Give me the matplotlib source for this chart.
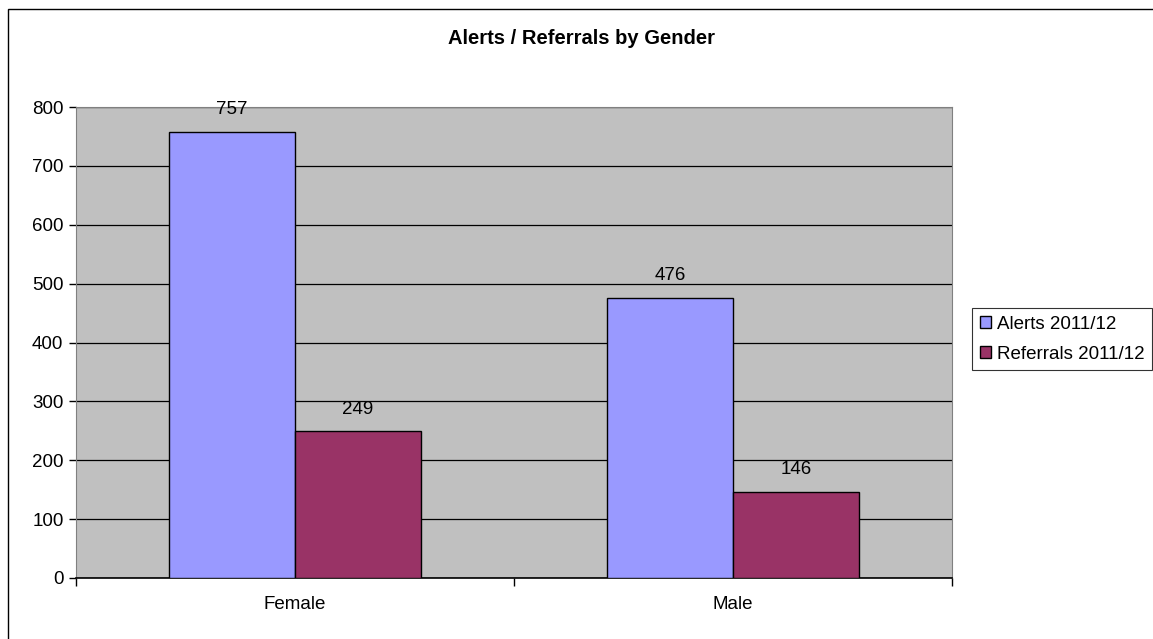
import numpy as np
import matplotlib.pyplot as plt
from matplotlib.patches import Rectangle

# chart data
categories = ['Female', 'Male']
series_names = ['Alerts 2011/12', 'Referrals 2011/12']
alerts = [757, 476]
referrals = [249, 146]
colors = ['#9999FF', '#993366']

plt.rcParams['font.family'] = ['Liberation Sans', 'DejaVu Sans']

W, H = 1153, 639
fig = plt.figure(figsize=(W / 100, H / 100), dpi=100)

# outer chart frame (cut off at right and bottom like the original)
fig.patches.append(Rectangle((8 / W, -0.01), 1.1, 1 - 9 / H + 0.01, transform=fig.transFigure,
                             fill=False, edgecolor='black', linewidth=1.0))

ax = fig.add_axes([76 / W, 1 - 578 / H, (952 - 76) / W, (578 - 107) / H])
ax.set_facecolor('#C0C0C0')

x = np.arange(len(categories))
width = 0.2877
bars1 = ax.bar(x - width / 2, alerts, width, color=colors[0], edgecolor='black',
               linewidth=1.0, label=series_names[0], zorder=3)
bars2 = ax.bar(x + width / 2, referrals, width, color=colors[1], edgecolor='black',
               linewidth=1.0, label=series_names[1], zorder=3)

for bars, vals in ((bars1, alerts), (bars2, referrals)):
    for b, v in zip(bars, vals):
        ax.annotate(str(v), (b.get_x() + b.get_width() / 2, v), xytext=(0, 10),
                    textcoords='offset points', ha='center', va='bottom', fontsize=13.5)

ax.set_xlim(-0.5, 1.5)
ax.set_ylim(0, 800)
ax.set_yticks(range(0, 801, 100))
ax.yaxis.grid(True, color='black', linewidth=0.9, zorder=1)
ax.set_axisbelow(True)

# category boundaries as x ticks, labels in the middle
ax.set_xticks([-0.5, 0.5, 1.5])
ax.set_xticklabels([])
ax.set_xticks(x, minor=True)
ax.set_xticklabels(categories, minor=True, fontsize=13.5)
ax.tick_params(axis='x', which='major', length=6, color='black', width=1)
ax.tick_params(axis='x', which='minor', length=0, pad=13)
ax.tick_params(axis='y', length=5, width=1, labelsize=13.5, pad=4)

for s in ('top', 'right', 'left'):
    ax.spines[s].set_color('#808080')
ax.spines['bottom'].set_color('black')
ax.spines['bottom'].set_linewidth(1.2)

fig.text(582 / W, 1 - 39 / H, 'Alerts / Referrals by Gender', ha='center', va='center',
         fontsize=14.5, fontweight='bold')

leg = fig.legend(handles=[bars1, bars2], labels=series_names, loc='upper left',
                 bbox_to_anchor=(972 / W, 1 - 308 / H), frameon=True, fancybox=False,
                 edgecolor='black', fontsize=13.5, handlelength=0.6, handleheight=0.6,
                 handletextpad=0.35, borderpad=0.4, labelspacing=0.7, borderaxespad=0)
leg.get_frame().set_linewidth(0.8)

fig.savefig('out.png', dpi=100)
